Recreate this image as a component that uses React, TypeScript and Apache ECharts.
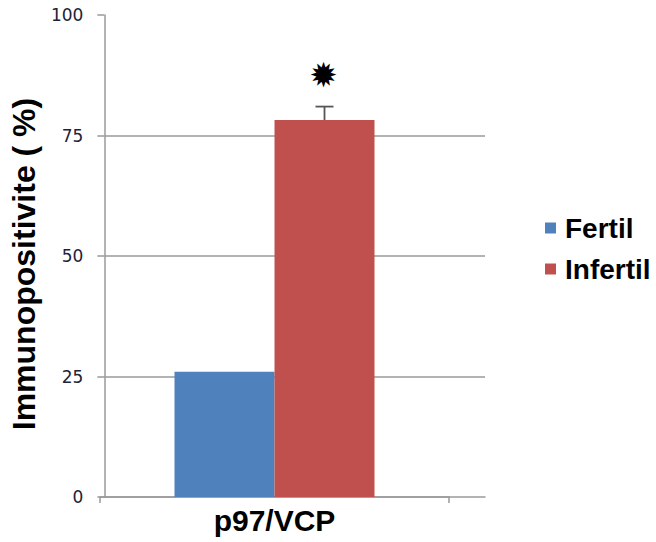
import React, { useEffect, useRef } from "react";
import * as echarts from "echarts";

const categories = ["p97/VCP"];
const seriesNames = ["Fertil", "Infertil"];
const fertilValues = [26];
const infertilValues = [78.2];
const infertilErrorUpper = [81];
const significanceY = [87.5];
const yTicks = [0, 25, 50, 75, 100];

const FONT = "'Liberation Sans', Arial, sans-serif";
const AXIS_GRAY = "#9a9a9a";
const BAR_W = 100;

export default function App() {
  const ref = useRef<HTMLDivElement>(null);
  useEffect(() => {
    if (!ref.current) return;
    const chart = echarts.init(ref.current, undefined, { renderer: "svg" });
    const yMin = yTicks[0];
    const yMax = yTicks[yTicks.length - 1];
    const interval = yTicks[1] - yTicks[0];
    chart.setOption({
      animation: false,
      backgroundColor: "#ffffff",
      textStyle: { fontFamily: FONT },
      legend: {
        data: seriesNames,
        orient: "vertical",
        left: 545,
        top: 213,
        itemWidth: 11,
        itemHeight: 11,
        itemGap: 11,
        icon: "rect",
        textStyle: {
          fontSize: 28,
          fontWeight: "bold",
          color: "#000",
          fontFamily: FONT,
          lineHeight: 30,
          padding: [0, 0, 0, 4],
        },
        padding: 0,
      },
      grid: [
        { left: 104, right: 171, top: 15, bottom: 45 },
        { left: 100, right: 207, top: 15, bottom: 45 },
      ],
      xAxis: [
        {
          gridIndex: 0,
          type: "category",
          data: categories,
          axisLine: { show: true, lineStyle: { color: AXIS_GRAY, width: 1.5 } },
          axisTick: { show: false },
          axisLabel: { show: false },
          splitLine: { show: false },
        },
        {
          gridIndex: 1,
          type: "category",
          data: categories,
          axisLine: { show: true, lineStyle: { color: AXIS_GRAY, width: 1.5 } },
          axisTick: { show: true, length: 6, lineStyle: { color: AXIS_GRAY, width: 1.5 } },
          axisLabel: {
            show: true,
            fontSize: 30,
            fontWeight: "bold",
            color: "#000",
            margin: 8,
            fontFamily: FONT,
          },
        },
      ],
      yAxis: [
        {
          gridIndex: 0,
          type: "value",
          min: yMin,
          max: yMax,
          interval,
          name: "Immunopositivite ( %)",
          nameLocation: "middle",
          nameGap: 58,
          nameTextStyle: {
            fontSize: 32,
            fontWeight: "bold",
            color: "#000",
            fontFamily: FONT,
            padding: [0, 16, 0, 0],
          },
          axisLine: { show: true, lineStyle: { color: AXIS_GRAY, width: 1.5 } },
          axisTick: { show: true, length: 7, lineStyle: { color: AXIS_GRAY, width: 1.5 } },
          axisLabel: {
            fontSize: 17,
            color: "#222236",
            margin: 21,
            fontFamily: "'DejaVu Sans', Verdana, sans-serif",
          },
          splitLine: {
            show: true,
            showMaxLine: false,
            showMinLine: false,
            lineStyle: { color: AXIS_GRAY, width: 1.5 },
          },
        },
        {
          gridIndex: 1,
          type: "value",
          min: yMin,
          max: yMax,
          interval,
          show: false,
          splitLine: { show: false },
        },
      ],
      series: [
        {
          name: seriesNames[0],
          type: "bar",
          xAxisIndex: 1,
          yAxisIndex: 1,
          data: fertilValues,
          barWidth: BAR_W,
          barGap: "0%",
          itemStyle: { color: "#4f81bd" },
        },
        {
          name: seriesNames[1],
          type: "bar",
          xAxisIndex: 1,
          yAxisIndex: 1,
          data: infertilValues,
          barWidth: BAR_W,
          barGap: "0%",
          itemStyle: { color: "#c0504d" },
        },
        {
          name: "error",
          type: "custom",
          xAxisIndex: 1,
          yAxisIndex: 1,
          z: 5,
          data: categories.map((_, i) => [i, infertilValues[i], infertilErrorUpper[i], significanceY[i]]),
          renderItem: (params: any, api: any) => {
            const idx = api.value(0);
            const base = api.coord([idx, api.value(1)]);
            const top = api.coord([idx, api.value(2)]);
            const star = api.coord([idx, api.value(3)]);
            const x = base[0] + BAR_W / 2;
            const stroke = { stroke: "#555", lineWidth: 1.8 };
            return {
              type: "group",
              children: [
                { type: "line", shape: { x1: x, y1: base[1], x2: x, y2: top[1] }, style: stroke },
                { type: "line", shape: { x1: x - 9, y1: top[1], x2: x + 9, y2: top[1] }, style: stroke },
                {
                  type: "text",
                  x: x - 1,
                  y: star[1],
                  style: {
                    text: "\u2739",
                    fontSize: 34,
                    fill: "#000",
                    align: "center",
                    verticalAlign: "middle",
                    fontFamily: "'DejaVu Sans', sans-serif",
                  },
                },
              ],
            };
          },
        },
      ],
    });
    return () => chart.dispose();
  }, []);
  return <div ref={ref} style={{ width: 656, height: 542, position: "absolute", left: 0, top: 0 }} />;
}
